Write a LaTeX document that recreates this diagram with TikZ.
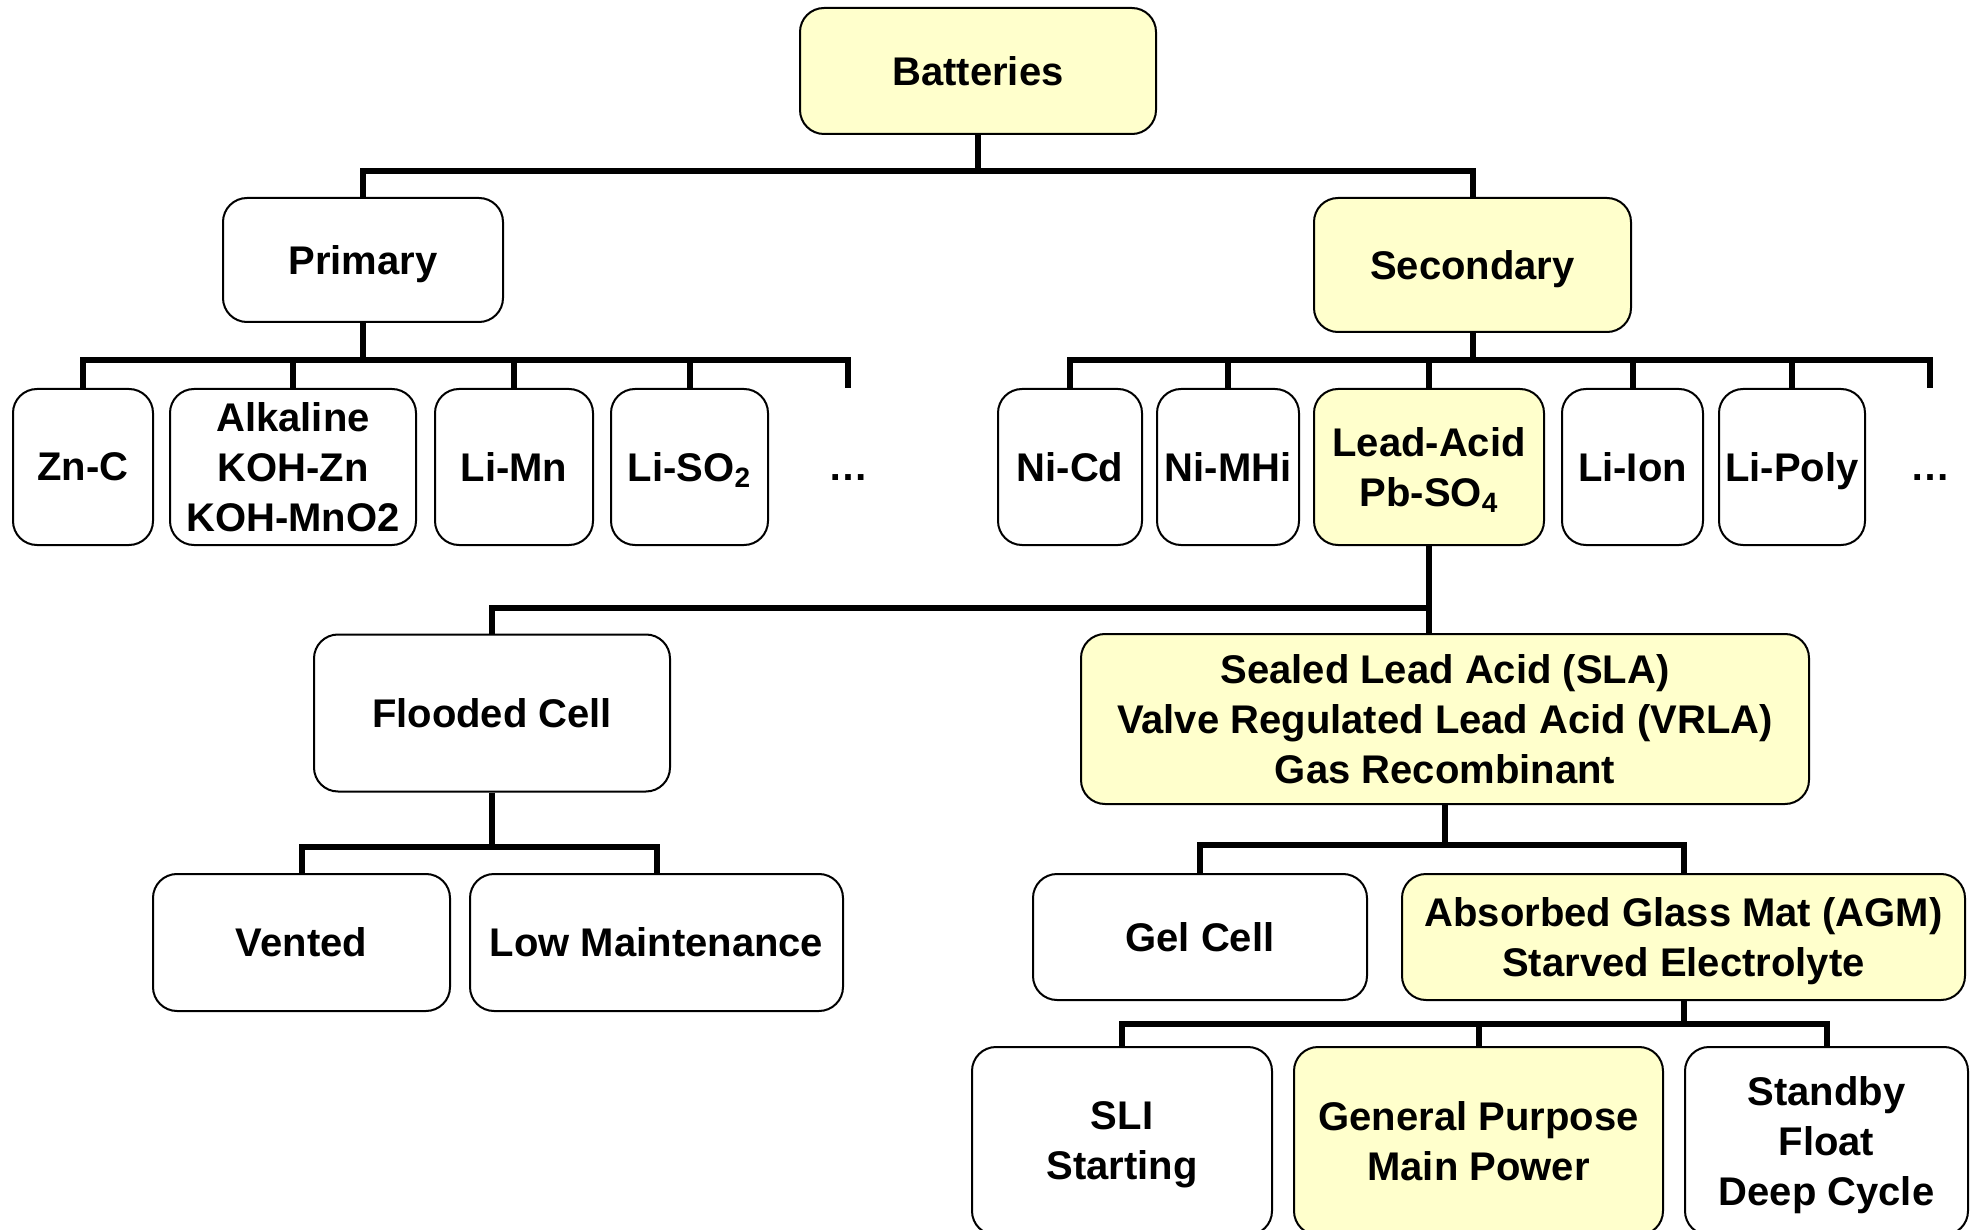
\documentclass[tikz,border=0pt]{standalone}
\usepackage{fontspec}
\setmainfont{Liberation Sans}
\definecolor{boxyellow}{HTML}{FFFFCC}
\begin{document}
\begin{tikzpicture}[x=0.5pt,y=-0.5pt,
  box/.style={draw=black,line width=1pt,rounded corners=12pt,fill=white,inner sep=0pt,align=center,
    text depth=0pt,font=\bfseries\fontsize{20}{25}\selectfont},
  hl/.style={box,fill=boxyellow},
  conn/.style={line width=3pt,line join=miter},
  dotsnode/.style={inner sep=0pt,font=\bfseries\fontsize{20}{25}\selectfont}]
\useasboundingbox (0,0) rectangle (1978,1230);
\clip (0,0) rectangle (1978,1230);

% level bars
\coordinate (y1) at (0,171);
\coordinate (y2) at (0,360);
\coordinate (y3) at (0,608);
\coordinate (y4) at (0,847);
\coordinate (y5) at (0,845);
\coordinate (y6) at (0,1024);
\coordinate (stubA) at (848,388);
\coordinate (stubB) at (1930,388);

% nodes
\node[hl, minimum width=178pt, minimum height=63pt] (bat) at (978,71) {Batteries};
\node[box, minimum width=140pt, minimum height=62pt] (pri) at (363,260) {Primary};
\node[hl, minimum width=158.5pt, minimum height=67pt] (sec) at (1472.5,265) {Secondary};

\node[box, minimum width=70pt, minimum height=78pt] (znc) at (83,467) {Zn-C};
\node[box, minimum width=123pt, minimum height=78pt] (alk) at (293,467) {Alkaline\\KOH-Zn\\KOH-MnO2};
\node[box, minimum width=79pt, minimum height=78pt] (limn) at (514,467) {Li-Mn};
\node[box, minimum width=78.5pt, minimum height=78pt] (liso) at (689.5,467) {Li-SO\textsubscript{2}};
\node[dotsnode] (dotsA) at (848,478) {…};

\node[box, minimum width=72pt, minimum height=78pt] (nicd) at (1070,467) {Ni-Cd};
\node[box, minimum width=71pt, minimum height=78pt] (nimh) at (1228,467) {Ni-MHi};
\node[hl, minimum width=115pt, minimum height=78pt] (la) at (1429,467) {Lead-Acid\\Pb-SO\textsubscript{4}};
\node[box, minimum width=70.5pt, minimum height=78pt] (liion) at (1632.5,467) {Li-Ion};
\node[box, minimum width=73pt, minimum height=78pt] (lipoly) at (1792,467) {Li-Poly};
\node[dotsnode] (dotsB) at (1930,478) {…};

\node[box, minimum width=178pt, minimum height=78.5pt] (fl) at (492,713) {Flooded Cell};
\node[hl, minimum width=364pt, minimum height=85pt] (sla) at (1445,719)
  {Sealed Lead Acid (SLA)\\Valve Regulated Lead Acid (VRLA)\\Gas Recombinant};

\node[box, minimum width=148.5pt, minimum height=68.5pt] (vent) at (301.5,942.5) {Vented};
\node[box, minimum width=186.5pt, minimum height=68.5pt] (lowm) at (656.5,942.5) {Low Maintenance};
\node[box, minimum width=167pt, minimum height=63pt] (gel) at (1200,937) {Gel Cell};
\node[hl, minimum width=281.5pt, minimum height=63pt] (agm) at (1683.5,937)
  {Absorbed Glass Mat (AGM)\\Starved Electrolyte};

\node[box, minimum width=150pt, minimum height=94pt] (sli) at (1122,1141) {SLI\\Starting};
\node[hl, minimum width=184.5pt, minimum height=94pt] (gp) at (1478.5,1141) {General Purpose\\Main Power};
\node[box, minimum width=141.5pt, minimum height=94pt] (stby) at (1826.5,1141) {Standby\\Float\\Deep Cycle};

% connectors
\draw[conn] (bat.south) -- (bat.south |- y1) -| (pri.north);
\draw[conn] (bat.south |- y1) -| (sec.north);

\foreach \c in {znc,alk,limn,liso}
  \draw[conn] (pri.south) -- (pri.south |- y2) -| (\c.north);
\draw[conn] (pri.south |- y2) -| (stubA);

\foreach \c in {nicd,nimh,la,liion,lipoly}
  \draw[conn] (sec.south) -- (sec.south |- y2) -| (\c.north);
\draw[conn] (sec.south |- y2) -| (stubB);

\draw[conn] (la.south) -- (la.south |- sla.north);
\draw[conn] (la.south |- y3) -| (fl.north);

\draw[conn] (fl.south) -- (fl.south |- y4) -| (vent.north);
\draw[conn] (fl.south |- y4) -| (lowm.north);

\draw[conn] (sla.south) -- (sla.south |- y5) -| (gel.north);
\draw[conn] (sla.south |- y5) -| (agm.north);

\foreach \c in {sli,gp,stby}
  \draw[conn] (agm.south) -- (agm.south |- y6) -| (\c.north);
\end{tikzpicture}
\end{document}
